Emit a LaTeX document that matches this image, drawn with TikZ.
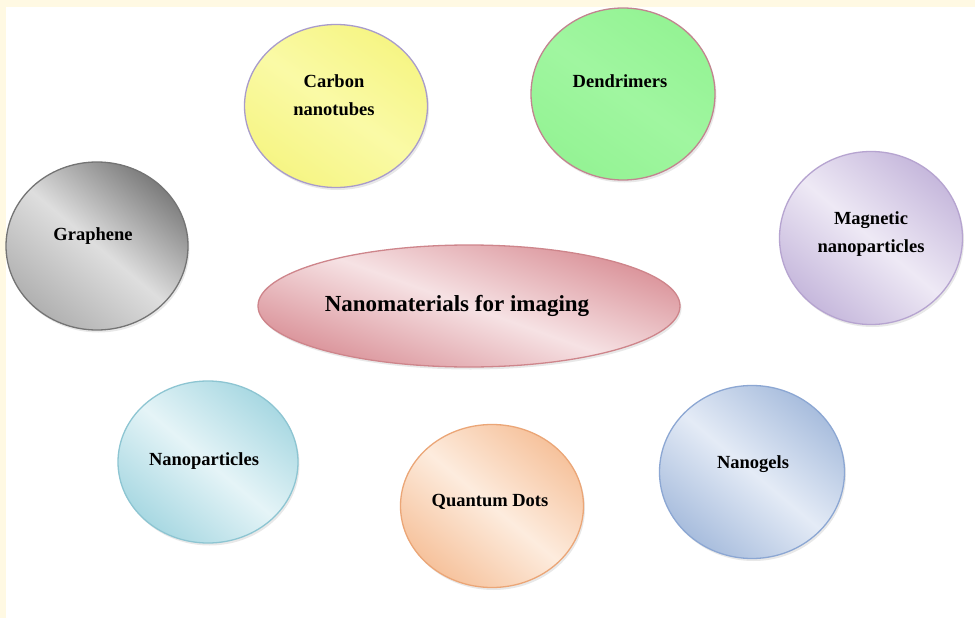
\documentclass[tikz,border=0pt]{standalone}
\usepackage{fontspec}
\setmainfont{Liberation Serif}
\usetikzlibrary{shapes.geometric,shadows}
\definecolor{cream}{HTML}{FFF9E3}
\definecolor{yelD}{HTML}{F6F584}
\definecolor{yelL}{HTML}{FAFAA6}
\definecolor{yelB}{HTML}{A99CCB}
\definecolor{grnD}{HTML}{94F394}
\definecolor{grnL}{HTML}{A0F6A0}
\definecolor{grnB}{HTML}{C2848F}
\definecolor{gryD}{HTML}{7C7C7C}
\definecolor{gryL}{HTML}{DEDEDE}
\definecolor{gryB}{HTML}{747474}
\definecolor{magD}{HTML}{C6B8DC}
\definecolor{magL}{HTML}{EEE9F5}
\definecolor{magB}{HTML}{B6A4D0}
\definecolor{pnkD}{HTML}{D98F96}
\definecolor{pnkL}{HTML}{F6E2E4}
\definecolor{pnkB}{HTML}{CE858B}
\definecolor{npD}{HTML}{A8D8E2}
\definecolor{npL}{HTML}{E5F4F7}
\definecolor{npB}{HTML}{8DC5D2}
\definecolor{qdD}{HTML}{F6C29C}
\definecolor{qdL}{HTML}{FDECDE}
\definecolor{qdB}{HTML}{EBA677}
\definecolor{ngD}{HTML}{A8BDDD}
\definecolor{ngL}{HTML}{E4EBF6}
\definecolor{ngB}{HTML}{8CA7D3}
\begin{document}
\begin{tikzpicture}[x=1pt,y=-1pt,
  blob/.style={ellipse, inner sep=0pt, line width=1.3pt,
    drop shadow={opacity=0.18, shadow xshift=1.5pt, shadow yshift=-2.5pt}},
  lbl/.style={font=\bfseries\fontsize{18.5}{28}\selectfont, align=center, text=black, inner sep=0pt},
  biglbl/.style={font=\bfseries\fontsize{23}{28}\selectfont, text=black, inner sep=0pt}]
\useasboundingbox (0,0) rectangle (975,618);
\fill[white] (0,0) rectangle (975,618);
\fill[cream] (0,0) rectangle (975,7);
\fill[cream] (0,0) rectangle (6,618);

% circles
\node[blob, minimum width=183pt, minimum height=163pt, draw=yelB,
  top color=yelD, bottom color=yelD, middle color=yelL, shading angle=-35] (cnt) at (336,106) {};
\node[blob, minimum width=184pt, minimum height=172pt, draw=grnB,
  top color=grnD, bottom color=grnD, middle color=grnL, shading angle=-35] (den) at (623,94) {};
\node[blob, minimum width=182pt, minimum height=168pt, draw=gryB,
  top color=gryD, bottom color=gryD!60!white, middle color=gryL, shading angle=-40] (gra) at (97,246) {};
\node[blob, minimum width=183pt, minimum height=173pt, draw=magB,
  top color=magD, bottom color=magD, middle color=magL, shading angle=-40] (mag) at (871,238) {};
\node[blob, minimum width=422pt, minimum height=122pt, draw=pnkB,
  top color=pnkD, bottom color=pnkD, middle color=pnkL, shading angle=-20] (nfi) at (469,306) {};
\node[blob, minimum width=180pt, minimum height=162pt, draw=npB,
  top color=npD, bottom color=npD, middle color=npL, shading angle=-40] (npt) at (208,462) {};
\node[blob, minimum width=183pt, minimum height=163pt, draw=qdB,
  top color=qdD, bottom color=qdD, middle color=qdL, shading angle=-40] (qd) at (492,506) {};
\node[blob, minimum width=185pt, minimum height=173pt, draw=ngB,
  top color=ngD, bottom color=ngD, middle color=ngL, shading angle=-40] (ngl) at (752,472) {};

% labels
\node[lbl] (tcnt) at (334,95) {Carbon\\nanotubes};
\node[lbl] (tden) at (620,81) {Dendrimers};
\node[lbl] (tgra) at (93,236) {Graphene};
\node[lbl] (tmag) at (871,234) {Magnetic\\nanoparticles};
\node[biglbl] (tnfi) at (457,306) {Nanomaterials for imaging};
\node[lbl] (tnpt) at (204,461) {Nanoparticles};
\node[lbl] (tqd) at (490,502) {Quantum Dots};
\node[lbl] (tngl) at (753,464) {Nanogels};
\end{tikzpicture}
\end{document}
